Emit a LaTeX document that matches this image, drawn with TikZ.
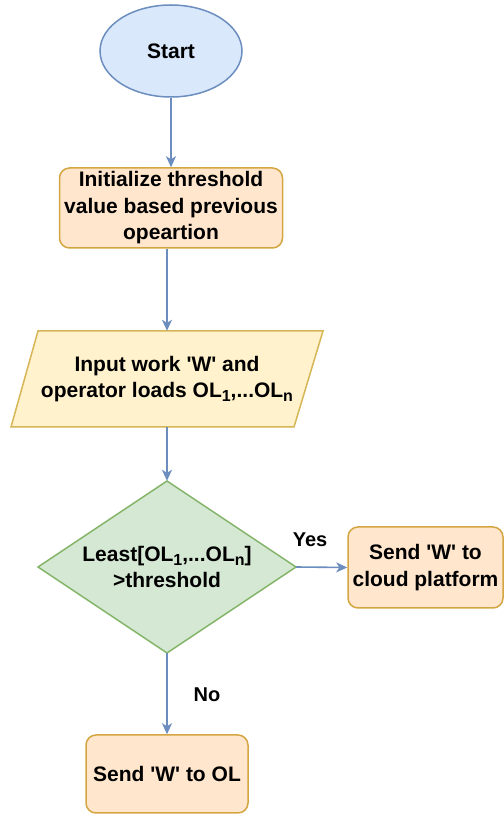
\documentclass[tikz,border=0pt]{standalone}
\usepackage{fontspec}
\setmainfont{Liberation Sans}[Ligatures=TeXOff]
\usetikzlibrary{shapes.geometric,arrows.meta}

\definecolor{blueline}{HTML}{6C8EBF}
\definecolor{bluefill}{HTML}{DAE8FC}
\definecolor{orangeline}{HTML}{D4A642}
\definecolor{orangefill}{HTML}{FFE6CC}
\definecolor{yellowline}{HTML}{D6B656}
\definecolor{yellowfill}{HTML}{FFF2CC}
\definecolor{greenline}{HTML}{82B366}
\definecolor{greenfill}{HTML}{D5E8D4}

% lowered index used in OL_1 ... OL_n
\newcommand{\lowidx}[1]{\raisebox{-0.35ex}{\fontsize{16}{16}\selectfont #1}}

\begin{document}
\begin{tikzpicture}[x=1pt,y=1pt,
  every node/.style={font=\fontsize{21}{26.5}\selectfont\bfseries, text=black, align=center, inner sep=0pt},
  flow/.style={draw=blueline, line width=1.6pt, -{Stealth[length=11pt,width=10pt,inset=3pt]}},
  terminal/.style={ellipse, draw=blueline, fill=bluefill, line width=1.5pt},
  procbox/.style={rectangle, rounded corners=10pt, draw=orangeline, fill=orangefill, line width=1.5pt},
  iobox/.style={draw=yellowline, fill=yellowfill, line width=1.5pt},
  decision/.style={draw=greenline, fill=greenfill, line width=1.5pt},
  edgelabel/.style={font=\fontsize{20}{24}\selectfont\bfseries}]
\useasboundingbox (0,0) rectangle (504,815);

% start
\node[terminal, minimum width=142pt, minimum height=92pt] (start) at (171,764) {Start};

% threshold initialisation
\node[procbox, minimum width=223pt, minimum height=80pt] (init) at (171,607)
  {Initialize threshold\\value based previous\\opeartion};

% input parallelogram
\draw[iobox] (38,484) -- (323,484) -- (294,388) -- (11,388) -- cycle;
\node[minimum width=283pt, minimum height=96pt] (input) at (167,436)
  {Input work 'W' and\\operator loads OL\lowidx{1},...OL\lowidx{n}};

% decision diamond
\draw[decision] (167,334) -- (296,248) -- (167,162) -- (38,248) -- cycle;
\node[minimum width=258pt, minimum height=172pt] (dec) at (167,248)
  {Least[OL\lowidx{1},...OL\lowidx{n}]\\>threshold};

% outcomes
\node[procbox, minimum width=155pt, minimum height=81pt] (cloud) at (425.5,247.5)
  {Send 'W' to\\cloud platform};
\node[procbox, minimum width=162pt, minimum height=78pt] (ol) at (167,41)
  {Send 'W' to OL};

% connectors
\draw[flow] (start) -- (init);
\draw[flow] (init.south -| input.north) -- (input.north);
\draw[flow] (input) -- (dec.north);
\draw[flow] (dec.east) -- (cloud.west);
\draw[flow] (dec.south) -- (ol.north);

% branch labels
\node[edgelabel] (yes) at (310,275) {Yes};
\node[edgelabel] (no) at (207,120) {No};
\end{tikzpicture}
\end{document}
